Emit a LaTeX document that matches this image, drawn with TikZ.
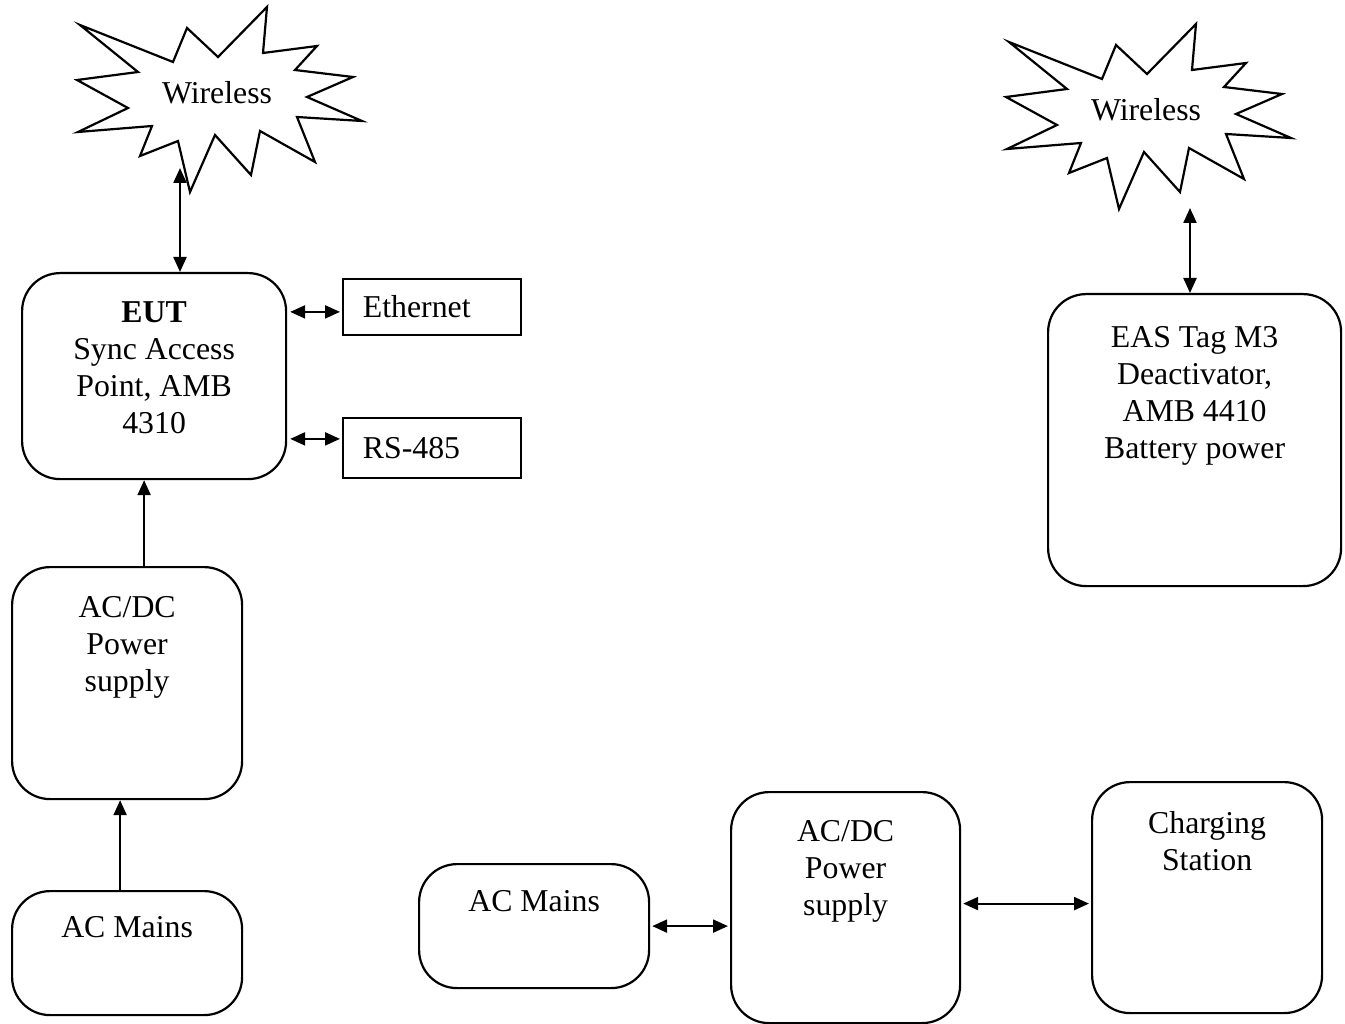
\documentclass[tikz,border=0pt]{standalone}
\usepackage{fontspec}
\setmainfont{Liberation Serif}
\usetikzlibrary{positioning,arrows.meta}
\tikzset{
  blk/.style={draw, line width=2.2pt, rounded corners=38pt, inner sep=0pt},
  port/.style={draw, line width=1.8pt, inner xsep=20pt, inner ysep=0pt,
    text width=138pt, align=left},
  txt/.style={align=center, inner sep=0pt},
  link/.style={line width=2.2pt,
    {Triangle[length=15pt,width=13pt]}-{Triangle[length=15pt,width=13pt]}},
  feed/.style={line width=2.2pt, -{Triangle[length=15pt,width=13pt]}},
  wireless/.pic={
    \draw[line width=2.2pt, line join=miter]
      (-137,-68) -- (-44,-31) -- (-30,-65) -- (1,-36) -- (50,-86)
      -- (46,-40) -- (100,-47) -- (78,-23) -- (136,-16) -- (90,4)
      -- (145,28) -- (80,24) -- (98,69) -- (43,38) -- (34,82)
      -- (-2,42) -- (-27,99) -- (-39,48) -- (-77,63) -- (-65,33)
      -- (-139,39) -- (-89,15) -- (-140,-13) -- (-79,-21) -- cycle;
    \node[txt] (-text) at (0,0) {Wireless};
  }
}
\begin{document}
\begin{tikzpicture}[x=1pt, y=-1pt, font=\fontsize{31.8}{37}\selectfont]
  \useasboundingbox (0,0) rectangle (1345,1024);

  % wireless links
  \pic (wlL) at (217,93) {wireless};
  \pic (wlR) at (1146,110) {wireless};
  \coordinate (wlLport) at (180,168);
  \coordinate (wlRport) at (1190,208);

  % access point side
  \node[blk, minimum width=264pt, minimum height=206pt, anchor=north west] (eut) at (21,272) {};
  \node[txt, below=29pt of eut.north] {\textbf{EUT}\\Sync Access\\Point, AMB\\4310};
  \node[port, minimum height=56pt, anchor=north west] (eth) at (342,278) {Ethernet};
  \node[port, minimum height=60pt, anchor=north west] (rs) at (342,417) {RS-485};
  \node[blk, minimum width=230pt, minimum height=232pt, anchor=north west] (psuL) at (11,566) {};
  \node[txt, below=30pt of psuL.north] {AC/DC\\Power\\supply};
  \node[blk, minimum width=230pt, minimum height=124pt, anchor=north west] (mainsL) at (11,890) {};
  \node[txt, below=26pt of mainsL.north] {AC Mains};

  % tag side
  \node[blk, minimum width=293pt, minimum height=292pt, anchor=north west] (eas) at (1047,293) {};
  \node[txt, below=33pt of eas.north] {EAS Tag M3\\Deactivator,\\AMB 4410\\Battery power};
  \node[blk, minimum width=230pt, minimum height=124pt, anchor=north west] (mainsB) at (418,863) {};
  \node[txt, below=27pt of mainsB.north] {AC Mains};
  \node[blk, minimum width=229pt, minimum height=231pt, anchor=north west] (psuB) at (730,791) {};
  \node[txt, below=29pt of psuB.north] {AC/DC\\Power\\supply};
  \node[blk, minimum width=230pt, minimum height=231pt, anchor=north west] (chg) at (1091,781) {};
  \node[txt, below=30pt of chg.north] {Charging\\Station};

  % connectors
  \draw[link] (wlLport) -- (eut.north -| wlLport);
  \draw[link] ([xshift=3pt,yshift=-5pt]eth.west -| eut.east) -- ([xshift=-2pt,yshift=-5pt]eth.west);
  \draw[link] ([xshift=3pt,yshift=9pt]rs.west -| eut.east) -- ([xshift=-2pt,yshift=9pt]rs.west);
  \draw[feed] ([xshift=17pt]psuL.north) -- ([xshift=17pt]psuL.north |- eut.south);
  \draw[feed] ([xshift=-7pt]mainsL.north) -- ([xshift=-7pt]mainsL.north |- psuL.south);
  \draw[link] (wlRport) -- (eas.north -| wlRport);
  \draw[link] ([xshift=2pt]mainsB.east) -- ([xshift=-2pt]mainsB.east -| psuB.west);
  \draw[link] ([xshift=2pt,yshift=4pt]psuB.east) -- ([xshift=-2pt,yshift=4pt]psuB.east -| chg.west);
\end{tikzpicture}
\end{document}
